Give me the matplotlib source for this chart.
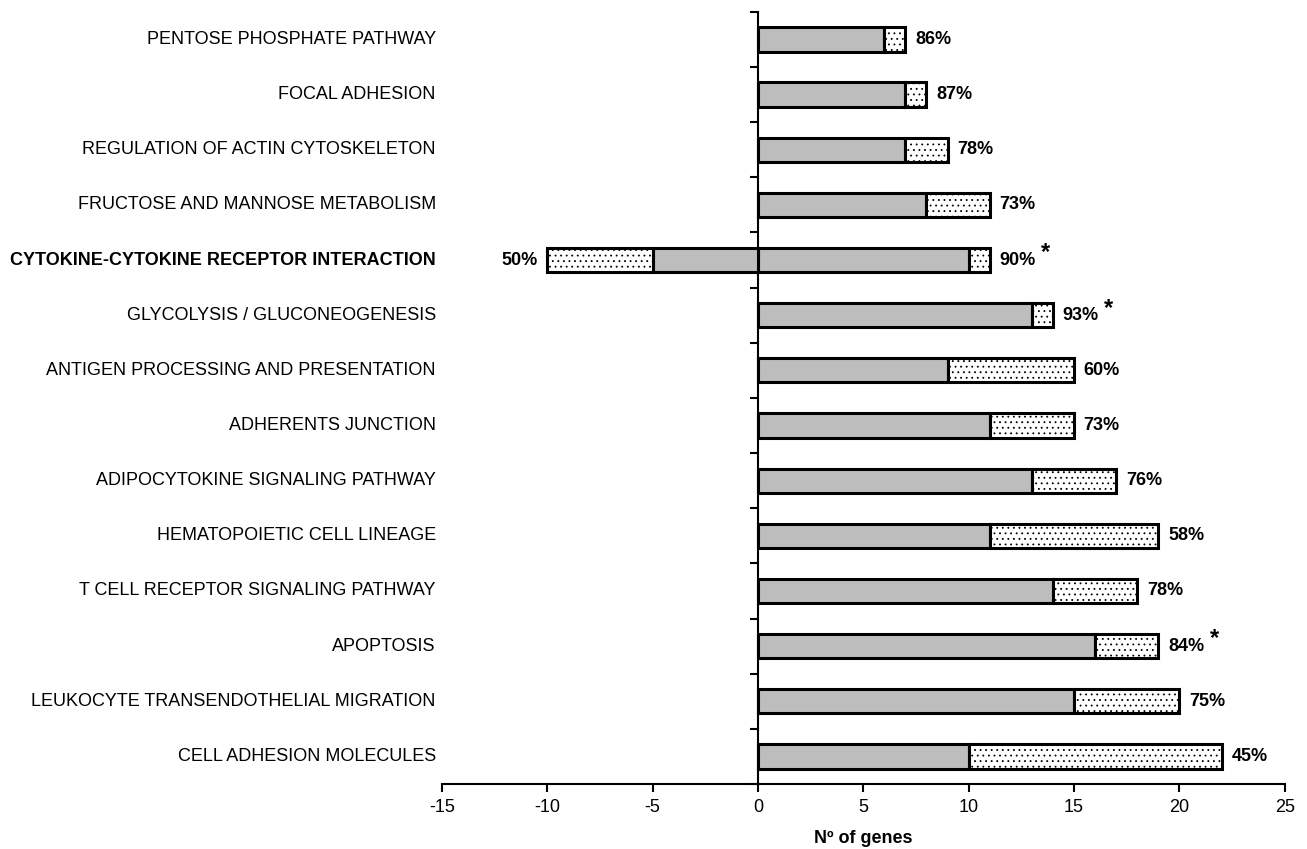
import matplotlib
matplotlib.use("Agg")
import matplotlib.pyplot as plt
import matplotlib.transforms as mtransforms
import numpy as np

categories = [
    "PENTOSE PHOSPHATE PATHWAY",
    "FOCAL ADHESION",
    "REGULATION OF ACTIN CYTOSKELETON",
    "FRUCTOSE AND MANNOSE METABOLISM",
    "CYTOKINE-CYTOKINE RECEPTOR INTERACTION",
    "GLYCOLYSIS / GLUCONEOGENESIS",
    "ANTIGEN PROCESSING AND PRESENTATION",
    "ADHERENTS JUNCTION",
    "ADIPOCYTOKINE SIGNALING PATHWAY",
    "HEMATOPOIETIC CELL LINEAGE",
    "T CELL RECEPTOR SIGNALING PATHWAY",
    "APOPTOSIS",
    "LEUKOCYTE TRANSENDOTHELIAL MIGRATION",
    "CELL ADHESION MOLECULES",
]
pos_gray  = [6, 7, 7, 8, 10, 13, 9, 11, 13, 11, 14, 16, 15, 10]
pos_total = [7, 8, 9, 11, 11, 14, 15, 15, 17, 19, 18, 19, 20, 22]
pos_pct   = ["86%", "87%", "78%", "73%", "90%", "93%", "60%", "73%",
             "76%", "58%", "78%", "84%", "75%", "45%"]
pos_star  = [False, False, False, False, True, True, False, False,
             False, False, False, True, False, False]
neg_gray  = [0, 0, 0, 0, -5, 0, 0, 0, 0, 0, 0, 0, 0, 0]
neg_total = [0, 0, 0, 0, -10, 0, 0, 0, 0, 0, 0, 0, 0, 0]
neg_pct   = ["", "", "", "", "50%", "", "", "", "", "", "", "", "", ""]
bold_cat  = "CYTOKINE-CYTOKINE RECEPTOR INTERACTION"
xticks    = [-15, -10, -5, 0, 5, 10, 15, 20, 25]

plt.rcParams['font.family'] = ['Liberation Sans', 'DejaVu Sans']
plt.rcParams['hatch.linewidth'] = 0.6

fig = plt.figure(figsize=(13.07, 8.49), dpi=100)
ax = fig.add_axes([0.338, 0.0766, 0.645, 0.9094])

y = np.arange(len(categories))
h = 0.44
gray = "#bdbdbd"
lw = 2.2

pg = np.array(pos_gray); pt = np.array(pos_total)
ng = np.array(neg_gray); nt = np.array(neg_total)

ax.barh(y, pg, height=h, color=gray, edgecolor="black", linewidth=lw, zorder=3)
ax.barh(y, pt - pg, left=pg, height=h, color="white", edgecolor="black",
        linewidth=lw, hatch="...", zorder=3)
mask = nt != 0
ax.barh(y[mask], ng[mask], height=h, color=gray, edgecolor="black", linewidth=lw, zorder=3)
ax.barh(y[mask], (nt - ng)[mask], left=ng[mask], height=h, color="white",
        edgecolor="black", linewidth=lw, hatch="...", zorder=3)

for i in range(len(categories)):
    t = ax.annotate(pos_pct[i], xy=(pos_total[i], y[i]), xytext=(7, 0),
                    textcoords="offset points", ha="left", va="center",
                    fontsize=13, fontweight="bold", zorder=4)
    if pos_star[i]:
        ax.annotate("*", xy=(1, 1), xycoords=t, xytext=(4, -1),
                    textcoords="offset points", ha="left", va="center",
                    fontsize=17, fontweight="bold")
    if neg_pct[i]:
        ax.annotate(neg_pct[i], xy=(neg_total[i], y[i]), xytext=(-7, 0),
                    textcoords="offset points", ha="right", va="center",
                    fontsize=13, fontweight="bold", zorder=4)

trans = mtransforms.blended_transform_factory(ax.transAxes, ax.transData)
for i, c in enumerate(categories):
    ax.text(-0.007, y[i], c, transform=trans, ha="right", va="center",
            fontsize=13, fontweight="bold" if c == bold_cat else "normal")

ax.set_xlim(-15, 25)
ax.set_ylim(len(categories) - 0.5, -0.5)
ax.set_xticks(xticks)
ax.set_xticklabels([str(v) for v in xticks], fontsize=13)
ax.set_yticks(np.arange(-0.5, len(categories) - 0.5 + 0.01, 1.0))
ax.set_yticklabels([])
ax.tick_params(axis="y", direction="out", length=6, width=1.5)
ax.tick_params(axis="x", direction="out", length=6, width=1.5, pad=5)

for s in ["top", "right"]:
    ax.spines[s].set_visible(False)
ax.spines["left"].set_position(("data", 0))
ax.spines["left"].set_linewidth(1.5)
ax.spines["bottom"].set_linewidth(1.5)

ax.set_xlabel("Nº of genes", fontsize=13, fontweight="bold", labelpad=10)

fig.savefig("out.png", dpi=100)
